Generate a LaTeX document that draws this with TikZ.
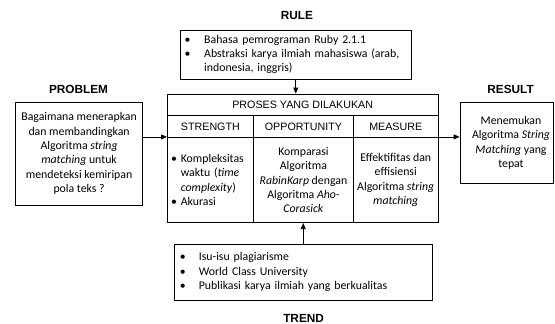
\documentclass[tikz,border=0pt]{standalone}
\usepackage{fontspec}
\setmainfont{Carlito}
\newfontfamily\arialf{Liberation Sans}
\usetikzlibrary{arrows.meta}
\begin{document}
\begin{tikzpicture}[x=1pt,y=-1pt,
  box/.style={draw=black, line width=0.8pt, rectangle, inner sep=0pt},
  body/.style={font=\fontsize{11.8pt}{14.3pt}\selectfont},
  head/.style={font=\arialf\fontsize{10.7pt}{12pt}\selectfont},
  lab/.style={font=\arialf\bfseries\fontsize{11.8pt}{14pt}\selectfont},
  arr/.style={-{Triangle[length=6pt,width=5pt]}, line width=0.8pt}]
\useasboundingbox (0,0) rectangle (555,324);

% labels
\node[lab] (lrule) at (297,15) {RULE};
\node[lab] (lprob) at (78.5,89) {PROBLEM};
\node[lab] (lres) at (510.6,89) {RESULT};
\node[lab] (ltrend) at (303.6,318) {TREND};

% rule box
\node[box, body, minimum width=230.5pt, minimum height=49pt, inner xsep=4.2pt, text width=222.1pt, align=left] (rule) at (295.75,54.5)
  {\makebox[19.5pt][l]{•}Bahasa pemrograman Ruby 2.1.1\\
   \makebox[19.5pt][l]{•}Abstraksi karya ilmiah mahasiswa (arab,\\
   \hspace*{19.5pt}indonesia, inggris)};

% problem box
\node[box, body, minimum width=127pt, minimum height=103pt, align=center] (prob) at (79.1,153.5)
  {Bagaimana menerapkan\\ dan membandingkan\\ Algoritma \textit{string}\\ \textit{matching} untuk\\ mendeteksi kemiripan\\ pola teks ?};

% result box
\node[box, minimum width=93.5pt, minimum height=81.7pt] (res) at (506.75,142.85) {};
\node[body, align=center] (restext) at (511,143)
  {Menemukan\\ Algoritma \textit{String}\\ \textit{Matching} yang\\ tepat};

% main process table
\node[box, head, minimum width=270.6pt, minimum height=21.7pt] (proc) at (302.7,104.85) {PROSES YANG DILAKUKAN};
\node[box, head, minimum width=86pt, minimum height=21.6pt] (shead) at (210.4,126.5) {STRENGTH};
\node[box, head, minimum width=100.1pt, minimum height=21.6pt] (ohead) at (303.45,126.5) {OPPORTUNITY};
\node[box, head, minimum width=84.5pt, minimum height=21.6pt] (mhead) at (395.75,126.5) {MEASURE};

\node[box, body, minimum width=86pt, minimum height=85.4pt, inner xsep=3.6pt, text width=78.8pt, align=left] (sbody) at (210.4,180)
  {\makebox[9.8pt][l]{•}Kompleksitas\\
   \hspace*{9.8pt}waktu (\textit{time}\\
   \hspace*{9.8pt}\textit{complexity})\\
   \makebox[9.8pt][l]{•}Akurasi};
\node[box, body, minimum width=100.1pt, minimum height=85.4pt, align=center] (obody) at (303.45,180)
  {Komparasi\\ Algoritma\\ \textit{RabinKarp} dengan\\ Algoritma \textit{Aho-}\\ \textit{Corasick}};
\node[box, body, minimum width=84.5pt, minimum height=85.4pt, align=center] (mbody) at (395.75,180)
  {Effektifitas dan\\ effisiensi\\ Algoritma \textit{string}\\ \textit{matching}};

% trend box
\node[box, body, minimum width=257.5pt, minimum height=56pt, inner xsep=5.3pt, text width=246.9pt, align=left] (trend) at (303.25,272)
  {\makebox[19.1pt][l]{•}Isu-isu plagiarisme\\
   \makebox[19.1pt][l]{•}World Class University\\
   \makebox[19.1pt][l]{•}Publikasi karya ilmiah yang berkualitas};

% connectors
\draw[arr] (prob.east |- sbody.north west) -- (sbody.north west);
\draw[arr] (mbody.north east) -- (res.west |- mbody.north east);
\draw[arr] (rule.south) -- (rule.south |- proc.north);
\draw[arr] (trend.north) -- (trend.north |- obody.south);
\end{tikzpicture}
\end{document}
